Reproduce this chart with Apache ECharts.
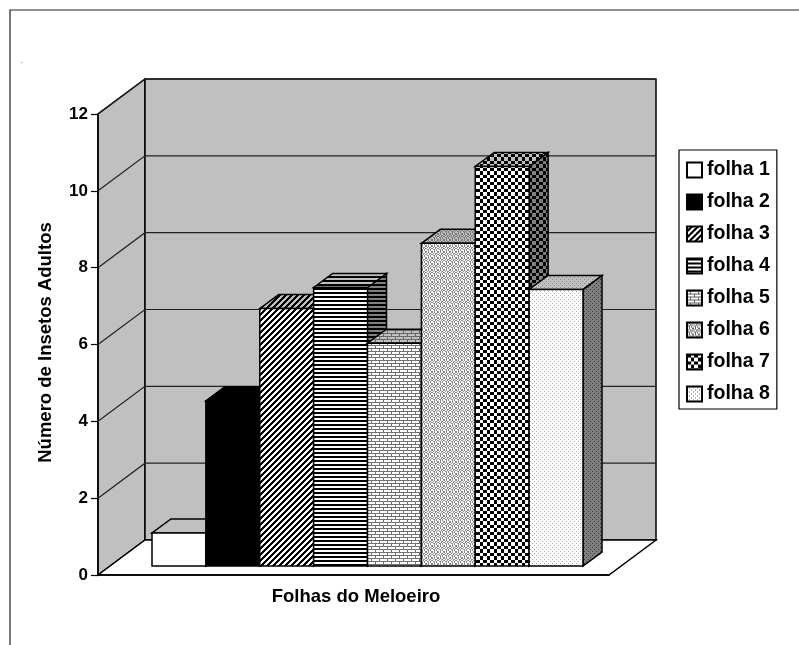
<!DOCTYPE html>
<html lang="pt">
<head>
    <meta charset="UTF-8">
    <title>Folhas do Meloeiro</title>
    <style>
        html, body { margin: 0; width: 100%; height: 100%; background: #fff; overflow: hidden; }
        #container { width: 799px; height: 645px; }
    </style>
</head>
<body>
<div id="container"></div>
<script src="https://cdn.jsdelivr.net/npm/echarts@6/dist/echarts.min.js"></script>
<script>
    // valores
    var categories = ['folha 1', 'folha 2', 'folha 3', 'folha 4', 'folha 5', 'folha 6', 'folha 7', 'folha 8'];
    var values = [0.86, 4.3, 6.7, 7.25, 5.8, 8.4, 10.4, 7.2];
    var yTicks = [0, 2, 4, 6, 8, 10, 12];

    var FONT = '"Liberation Sans", Arial, sans-serif';
    var DX = 19, DY = 14;          // profundidade da barra
    var WALL_X = 47, WALL_Y = 35;  // profundidade das paredes
    var GREY = '#c0c0c0';

    // padroes: # = tinta, . = fundo
    var masks = [
        ['.'],
        ['#'],
        ['...###', '..###.', '.###..', '###...', '##...#', '#...##'],
        ['##', '##', '..', '..'],
        ['########', '...#....', '...#....', '########', '.......#', '.......#'],
        ['#.#..#', '.#.##.', '#..#.#', '.##.#.', '..#.#.', '#.#..#'],
        ['####...', '####...', '####...', '....###', '....###', '....###', '....###'],
        ['........', '..#...#.', '........', '#...#...']
    ];
    // cor da tinta na frente (tons de cinza nos padroes finos)
    var inkFront = ['#000', '#000', '#000', '#000', '#707070', '#8c8c8c', '#000', '#a8a8a8'];
    var inkTop = ['#000', '#000', '#000', '#000', '#666', '#777', '#000', '#888'];
    var inkSide = ['#000', '#000', '#000', '#000', '#333', '#333', '#000', '#333'];

    function tile(rows, bg, ink) {
        var c = document.createElement('canvas');
        c.width = rows[0].length;
        c.height = rows.length;
        var ctx = c.getContext('2d');
        ctx.fillStyle = bg;
        ctx.fillRect(0, 0, c.width, c.height);
        ctx.fillStyle = ink;
        rows.forEach(function (row, y) {
            row.split('').forEach(function (ch, x) {
                if (ch === '#') ctx.fillRect(x, y, 1, 1);
            });
        });
        return {image: c, repeat: 'repeat'};
    }
    function patt(o) { return {type: 'pattern', image: o.image, repeat: o.repeat}; }

    function barRender(i) {
        var front = patt(tile(masks[i], '#fff', inkFront[i]));
        var top = patt(tile(masks[i], GREY, inkTop[i]));
        var side = patt(tile(masks[i], '#808080', inkSide[i]));
        return function (params, api) {
            var t = api.coord([api.value(0), api.value(1)]);
            var b = api.coord([api.value(0), 0]);
            var w = api.size([1, 0])[0];
            var x0 = t[0] - w / 2, x1 = t[0] + w / 2, y0 = t[1], y1 = b[1];
            function face(pts, fill) {
                return {type: 'polygon', shape: {points: pts},
                    style: {fill: fill, stroke: '#000', lineWidth: 1.5}};
            }
            return {type: 'group', children: [
                face([[x1, y0], [x1 + DX, y0 - DY], [x1 + DX, y1 - DY], [x1, y1]], side),
                face([[x0, y0], [x0 + DX, y0 - DY], [x1 + DX, y0 - DY], [x1, y0]], top),
                face([[x0, y0], [x1, y0], [x1, y1], [x0, y1]], front)
            ]};
        };
    }

    function wallRender(params, api) {
        var v = api.value(1);
        var p0 = api.coord([0, v]), p1 = api.coord([1, v]);
        if (params.dataIndex === 0) {
            var top = api.coord([0, 12]);
            return {type: 'group', children: [
                {type: 'polygon', shape: {points: [[p0[0], p0[1]], [top[0], top[1]], [top[0] + WALL_X, top[1] - WALL_Y], [p0[0] + WALL_X, p0[1] - WALL_Y]]},
                    style: {fill: GREY, stroke: '#000', lineWidth: 1.5}},
                {type: 'polygon', shape: {points: [[p0[0] + WALL_X, top[1] - WALL_Y], [p1[0] + WALL_X, top[1] - WALL_Y], [p1[0] + WALL_X, p0[1] - WALL_Y], [p0[0] + WALL_X, p0[1] - WALL_Y]]},
                    style: {fill: GREY, stroke: '#000', lineWidth: 1.5}},
                {type: 'polygon', shape: {points: [[p0[0], p0[1]], [p0[0] + WALL_X, p0[1] - WALL_Y], [p1[0] + WALL_X, p0[1] - WALL_Y], [p1[0], p1[1]]]},
                    style: {fill: '#fff', stroke: '#000', lineWidth: 1.5}}
            ]};
        }
        return {type: 'polyline', shape: {points: [[p0[0], p0[1]], [p0[0] + WALL_X, p0[1] - WALL_Y], [p1[0] + WALL_X, p0[1] - WALL_Y]]},
            style: {fill: null, stroke: '#222', lineWidth: 1.2}};
    }

    var series = [{
        name: 'paredes',
        type: 'custom',
        coordinateSystem: 'cartesian2d',
        xAxisIndex: 0,
        yAxisIndex: 0,
        z: 1,
        silent: true,
        renderItem: wallRender,
        clip: false,
        data: yTicks.map(function (t) { return [0, t]; })
    }];
    categories.forEach(function (name, i) {
        series.push({
            name: name,
            type: 'custom',
            coordinateSystem: 'cartesian2d',
            xAxisIndex: 1,
            yAxisIndex: 1,
            z: 2 + i,
            clip: false,
            renderItem: barRender(i),
            itemStyle: {color: tile(masks[i], '#fff', inkFront[i] === '#000' ? '#000' : '#666'), borderColor: '#000', borderWidth: 1},
            data: [[i, values[i]]]
        });
    });

    var myCharts = echarts.init(document.getElementById('container'), null, {renderer: 'canvas'});
    myCharts.setOption({
        animation: false,
        backgroundColor: '#fff',
        textStyle: {fontFamily: FONT},
        grid: [
            {left: 98, top: 114, width: 511, height: 461},
            {left: 152, top: 105, width: 431, height: 461}
        ],
        xAxis: [
            {
                type: 'value', gridIndex: 0, min: 0, max: 1, z: 20,
                name: 'Folhas do Meloeiro', nameLocation: 'middle', nameGap: 12,
                nameTextStyle: {fontFamily: FONT, fontWeight: 'bold', fontSize: 18.5, color: '#000', padding: [0, 0, 0, 5]},
                axisLine: {show: true, lineStyle: {color: '#000', width: 1.5}},
                axisTick: {show: false}, axisLabel: {show: false}, splitLine: {show: false}
            },
            {type: 'category', gridIndex: 1, data: categories, show: false}
        ],
        yAxis: [
            {
                type: 'value', gridIndex: 0, min: 0, max: 12, interval: 2, z: 20,
                name: 'Número de Insetos Adultos', nameLocation: 'middle', nameGap: 43,
                nameTextStyle: {fontFamily: FONT, fontWeight: 'bold', fontSize: 18.5, color: '#000', padding: [0, 0, 0, 4]},
                axisLine: {show: true, lineStyle: {color: '#000', width: 1.5}},
                axisTick: {show: true, length: 7, lineStyle: {color: '#000', width: 1.2}},
                axisLabel: {fontFamily: FONT, fontWeight: 'bold', fontSize: 17, color: '#000', margin: 10},
                splitLine: {show: false}
            },
            {type: 'value', gridIndex: 1, min: 0, max: 12, show: false}
        ],
        legend: {
            left: 679, top: 150, orient: 'vertical', icon: 'rect',
            data: categories,
            itemWidth: 15, itemHeight: 15, itemGap: 10,
            padding: [9, 7, 4, 7],
            backgroundColor: '#fff', borderColor: '#000', borderWidth: 1.2,
            selectedMode: false,
            textStyle: {fontFamily: FONT, fontWeight: 'bold', fontSize: 19.5, color: '#000', lineHeight: 22}
        },
        graphic: [
            {type: 'polyline', silent: true, shape: {points: [[10, 645], [10, 10], [799, 10]]},
                style: {fill: null, stroke: '#222', lineWidth: 1.2}},
            {type: 'rect', silent: true, shape: {x: 21, y: 62, width: 1, height: 1}, style: {fill: '#888'}}
        ],
        series: series
    });
</script>
</body>
</html>
